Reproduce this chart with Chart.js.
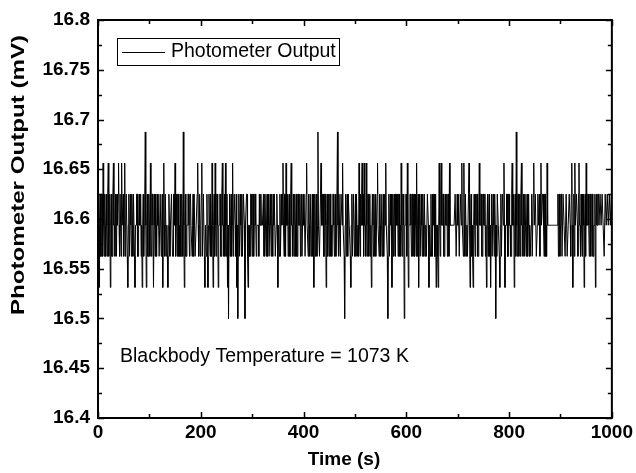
<!doctype html>
<head>
  <meta charset="utf-8" />
  <style>
    html, body { margin: 0; padding: 0; background: #fff; }
    canvas { display: block; }
  </style>
  <script src="https://cdn.jsdelivr.net/npm/chart.js@4/dist/chart.umd.min.js"></script>
</head>
<body>
<canvas id="chart" width="636" height="473"></canvas>
<script>
  // photometer readings are quantised, so each 1 s sample is stored as a level code 0..6
  // one row per 100 s, groups of 20 s
  const levelValues = [16.5, 16.53125, 16.5625, 16.59375, 16.625, 16.65625, 16.6875];
  const sampleRows = [
    "34134224425324324324 52341342245332432434 53244253342352344213 42243243244213344223 43342313423463134224",
    "32532443134243243442 24423413532442321343 23344224435234244232 42243263134223344324 43323424422334532442",
    "34522442133242134324 32531342532443133442 24533242532413034234 23523443241303422432 42244303344213322443",
    "24423443233332433433 33422442342342243243 24344223431332422434 53244253342342245332 43243242244334234224",
    "34422453324324423424 13423423633224533442 24431342342442323443 23423463244234435332 03423424433213422442",
    "34244232532434534253 32532442342313432432 42245332432442342343 53320342243413423424 43342442325324430334",
    "42531334432442342342 52341342243243244232 24431332422434422413 32135324533442234334 24425333333333344224",
    "34422443533253244232 24531342321343243442 23533442244334231342 34231342243243032443 32134224435313344224",
    "43322453341342632442 34245332432442342342 32234224533442234334 24533443244232533333 33333333333333342442",
    "34422443322442233443 24531342533443245332 43243413425334432442 34422334134334433443 34433224433443344334",
    "1"
  ];
  const stepSeconds = 1;
  const xTicks = [0, 200, 400, 600, 800, 1000];
  const yTicks = [16.4, 16.45, 16.5, 16.55, 16.6, 16.65, 16.7, 16.75, 16.8];
  const seriesName = "Photometer Output";
  const note = "Blackbody Temperature = 1073 K";
  const xTitle = "Time (s)";
  const yTitle = "Photometer Output (mV)";

  const codes = sampleRows.join("").replace(/\s/g, "").split("");
  const points = codes.map((c, i) => ({ x: i * stepSeconds, y: levelValues[+c] }));

  const FONT = "'Liberation Sans', Arial, sans-serif";

  const framePlugin = {
    id: "frame",
    afterDatasetsDraw(chart) {
      const { ctx, chartArea: a, scales: { x, y } } = chart;
      ctx.save();
      ctx.strokeStyle = "#000";
      ctx.fillStyle = "#000";

      // inward ticks on all four sides
      ctx.lineWidth = 1.5;
      ctx.beginPath();
      for (let v = 0; v <= 1000; v += 100) {
        const px = Math.round(x.getPixelForValue(v)) + 0.5;
        const len = v % 200 === 0 ? 6 : 4;
        ctx.moveTo(px, a.bottom); ctx.lineTo(px, a.bottom - len);
        ctx.moveTo(px, a.top); ctx.lineTo(px, a.top + len);
      }
      for (let k = 0; k <= 16; k++) {
        const v = 16.4 + k * 0.025;
        const py = Math.round(y.getPixelForValue(v)) + 0.5;
        const len = k % 2 === 0 ? 6 : 4;
        ctx.moveTo(a.left, py); ctx.lineTo(a.left + len, py);
        ctx.moveTo(a.right, py); ctx.lineTo(a.right - len, py);
      }
      ctx.stroke();

      ctx.lineWidth = 2;
      ctx.strokeRect(a.left, a.top, a.right - a.left, a.bottom - a.top);

      // legend box
      ctx.lineWidth = 1;
      ctx.fillStyle = "#fff";
      ctx.fillRect(117.5, 38.5, 222, 27);
      ctx.fillStyle = "#000";
      ctx.strokeRect(117.5, 38.5, 222, 27);
      ctx.beginPath();
      ctx.moveTo(122, 52.5); ctx.lineTo(165, 52.5);
      ctx.stroke();
      ctx.font = "19.5px " + FONT;
      ctx.textBaseline = "middle";
      ctx.textAlign = "left";
      ctx.fillText(seriesName, 171, 52);

      // annotation
      ctx.fillText(note, 120, 357);

      // axis titles
      ctx.font = "bold 19px " + FONT;
      ctx.textAlign = "center";
      ctx.fillText(xTitle, 344, 460);
      ctx.translate(19, 175);
      ctx.rotate(-Math.PI / 2);
      const w = ctx.measureText(yTitle).width;
      ctx.scale(280 / w, 1);
      ctx.fillText(yTitle, 0, 0);
      ctx.restore();
    }
  };

  new Chart(document.getElementById("chart"), {
    type: "line",
    data: {
      datasets: [{
        label: seriesName,
        data: points,
        borderColor: "#000",
        borderWidth: 1,
        pointRadius: 0,
        tension: 0,
        fill: false
      }]
    },
    options: {
      responsive: false,
      animation: false,
      events: [],
      layout: { padding: { top: 20, right: 23, bottom: 0, left: 0 } },
      plugins: { legend: { display: false }, tooltip: { enabled: false } },
      scales: {
        x: {
          type: "linear",
          min: 0, max: 1000,
          afterBuildTicks: s => { s.ticks = xTicks.map(v => ({ value: v })); },
          ticks: {
            color: "#000",
            font: { family: FONT, size: 19, weight: "bold" },
            padding: 3,
            maxRotation: 0,
            callback: v => String(v)
          },
          grid: { display: false, drawTicks: false },
          border: { display: false },
          afterFit: s => { s.height = 55; }
        },
        y: {
          min: 16.4, max: 16.8,
          afterBuildTicks: s => { s.ticks = yTicks.map(v => ({ value: v })); },
          ticks: {
            color: "#000",
            font: { family: FONT, size: 19, weight: "bold" },
            padding: 8,
            callback: v => String(+v.toFixed(2))
          },
          grid: { display: false, drawTicks: false },
          border: { display: false },
          afterFit: s => { s.width = 98; }
        }
      }
    },
    plugins: [framePlugin]
  });
</script>
</body>
